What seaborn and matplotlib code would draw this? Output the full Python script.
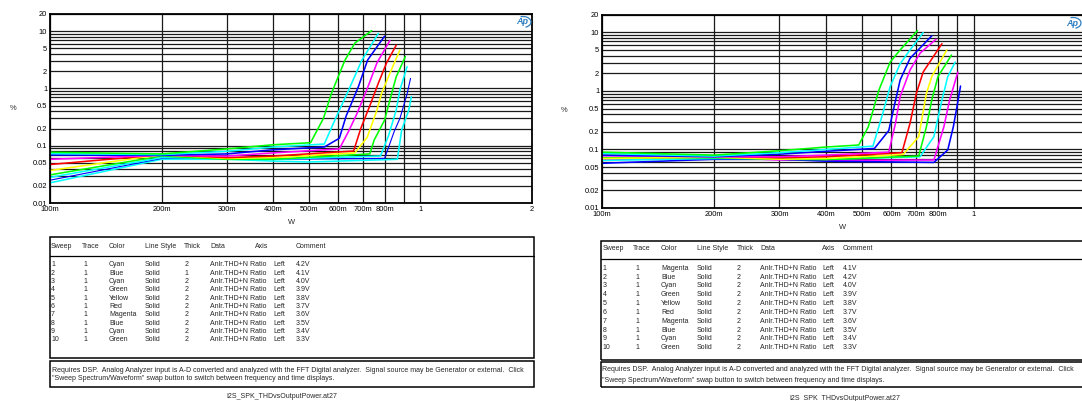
"""THD+N vs output power (I2S speaker amp), two supply sweeps side by side."""
import matplotlib

matplotlib.use("Agg")
import matplotlib.pyplot as plt
from matplotlib.patches import Rectangle, Arc
from matplotlib.ticker import FixedLocator, FixedFormatter, NullLocator
import seaborn as sns

sns.set_theme(style="white")
plt.rcParams["font.family"] = ["Liberation Sans", "DejaVu Sans"]

W_PX, H_PX = 1082, 401

COLOR_HEX = {"Cyan": "#00ffff", "Blue": "#0000ff", "Green": "#00ff00",
             "Yellow": "#ffff00", "Red": "#ff0000", "Magenta": "#ff00ff"}

# ---- left panel, listed in sweep order -----------------------------------
LEFT_VOLTS = ["4.2V", "4.1V", "4.0V", "3.9V", "3.8V", "3.7V", "3.6V", "3.5V", "3.4V", "3.3V"]
LEFT_COLORS = ["Cyan", "Blue", "Cyan", "Green", "Yellow", "Red", "Magenta", "Blue", "Cyan", "Green"]
LEFT_THICK = [2, 1, 2, 2, 2, 2, 2, 2, 2, 2]
LEFT_WATTS = [
    [0.1, 0.2, 0.3, 0.4, 0.5, 0.866, 0.89, 0.93, 0.945],
    [0.1, 0.2, 0.3, 0.4, 0.8, 0.85, 0.88, 0.92, 0.94],
    [0.1, 0.2, 0.3, 0.4, 0.78, 0.82, 0.86, 0.88, 0.92],
    [0.1, 0.2, 0.3, 0.4, 0.73, 0.75, 0.8, 0.827, 0.86, 0.91],
    [0.1, 0.2, 0.3, 0.4, 0.665, 0.718, 0.763, 0.785, 0.827, 0.88],
    [0.1, 0.2, 0.3, 0.4, 0.66, 0.69, 0.73, 0.77, 0.81, 0.86],
    [0.1, 0.2, 0.3, 0.4, 0.604, 0.64, 0.672, 0.716, 0.763, 0.827],
    [0.1, 0.2, 0.3, 0.4, 0.55, 0.604, 0.63, 0.68, 0.72, 0.8],
    [0.1, 0.2, 0.3, 0.4, 0.55, 0.59, 0.64, 0.695, 0.77],
    [0.1, 0.2, 0.3, 0.4, 0.505, 0.547, 0.575, 0.625, 0.665, 0.738],
]
LEFT_THD = [
    [0.0225, 0.058, 0.058, 0.054, 0.052, 0.058, 0.19, 0.42, 0.72],
    [0.025, 0.06, 0.062, 0.058, 0.06, 0.18, 0.3, 0.8, 1.5],
    [0.028, 0.062, 0.06, 0.058, 0.066, 0.15, 0.42, 0.94, 2.4],
    [0.031, 0.066, 0.058, 0.058, 0.072, 0.126, 0.28, 0.63, 1.6, 3.6],
    [0.037, 0.07, 0.06, 0.062, 0.075, 0.14, 0.42, 0.82, 1.85, 4.7],
    [0.047, 0.07, 0.062, 0.066, 0.081, 0.2, 0.5, 1.25, 2.8, 5.7],
    [0.058, 0.068, 0.066, 0.075, 0.088, 0.18, 0.35, 0.94, 2.8, 6.9],
    [0.069, 0.068, 0.072, 0.085, 0.095, 0.135, 0.33, 1.08, 3.14, 8.2],
    [0.073, 0.07, 0.08, 0.095, 0.107, 0.3, 0.94, 3.14, 9.2],
    [0.077, 0.072, 0.088, 0.104, 0.113, 0.3, 0.82, 3.1, 6.2, 10.2],
]

# ---- right panel, listed in sweep order ----------------------------------
RIGHT_VOLTS = ["4.1V", "4.2V", "4.0V", "3.9V", "3.8V", "3.7V", "3.6V", "3.5V", "3.4V", "3.3V"]
RIGHT_COLORS = ["Magenta", "Blue", "Cyan", "Green", "Yellow", "Red", "Magenta", "Blue", "Cyan", "Green"]
RIGHT_THICK = [2, 2, 2, 2, 2, 2, 2, 2, 2, 2]
RIGHT_WATTS = [
    [0.1, 0.2, 0.3, 0.4, 0.78, 0.83, 0.86, 0.905],
    [0.1, 0.2, 0.3, 0.4, 0.78, 0.85, 0.88, 0.9, 0.92],
    [0.1, 0.2, 0.3, 0.4, 0.716, 0.78, 0.82, 0.85, 0.89],
    [0.1, 0.2, 0.3, 0.4, 0.71, 0.745, 0.77, 0.8, 0.87],
    [0.1, 0.2, 0.3, 0.4, 0.645, 0.71, 0.745, 0.77, 0.845],
    [0.1, 0.2, 0.3, 0.4, 0.64, 0.673, 0.7, 0.73, 0.82],
    [0.1, 0.2, 0.3, 0.4, 0.59, 0.615, 0.633, 0.673, 0.716, 0.79],
    [0.1, 0.2, 0.3, 0.4, 0.54, 0.59, 0.61, 0.633, 0.673, 0.77],
    [0.1, 0.2, 0.3, 0.4, 0.535, 0.565, 0.595, 0.633, 0.673, 0.73],
    [0.1, 0.2, 0.3, 0.4, 0.49, 0.52, 0.555, 0.595, 0.633, 0.705],
]
RIGHT_THD = [
    [0.068, 0.074, 0.066, 0.065, 0.066, 0.245, 0.7, 2.1],
    [0.058, 0.068, 0.068, 0.063, 0.06, 0.098, 0.245, 0.54, 1.21],
    [0.065, 0.07, 0.07, 0.068, 0.075, 0.165, 0.7, 1.75, 3.1],
    [0.072, 0.072, 0.068, 0.067, 0.077, 0.245, 0.7, 1.75, 4.1],
    [0.07, 0.074, 0.068, 0.07, 0.082, 0.165, 0.91, 1.75, 5.0],
    [0.083, 0.077, 0.072, 0.075, 0.088, 0.28, 0.91, 2.1, 6.4],
    [0.078, 0.075, 0.075, 0.08, 0.09, 0.28, 0.8, 2.27, 4.4, 7.6],
    [0.08, 0.075, 0.083, 0.093, 0.104, 0.21, 0.54, 1.53, 3.6, 8.7],
    [0.085, 0.077, 0.088, 0.1, 0.114, 0.36, 1.18, 2.9, 5.0, 9.9],
    [0.09, 0.08, 0.095, 0.11, 0.119, 0.245, 1.03, 3.1, 5.0, 10.7],
]

X_TICKS = [0.1, 0.2, 0.3, 0.4, 0.5, 0.6, 0.7, 0.8, 0.9, 1, 2]
X_LABELS = ["100m", "200m", "300m", "400m", "500m", "600m", "700m", "800m", "", "1", "2"]
Y_TICKS = [0.01, 0.02, 0.03, 0.04, 0.05, 0.06, 0.07, 0.08, 0.09,
           0.1, 0.2, 0.3, 0.4, 0.5, 0.6, 0.7, 0.8, 0.9,
           1, 2, 3, 4, 5, 6, 7, 8, 9, 10, 20]
Y_LABELS = ["0.01", "0.02", "", "", "0.05", "", "", "", "",
            "0.1", "0.2", "", "", "0.5", "", "", "", "",
            "1", "2", "", "", "5", "", "", "", "", "10", "20"]

HEADERS = ["Sweep", "Trace", "Color", "Line Style", "Thick", "Data", "Axis", "Comment"]
NOTE = ["Requires DSP.  Analog Analyzer input is A-D converted and analyzed with the FFT "
        "Digital analyzer.  Signal source may be Generator or external.  Click",
        "\"Sweep Spectrum/Waveform\" swap button to switch between frequency and time displays."]
FILENAME = "I2S_SPK_THDvsOutputPower.at27"

FS = 5.05     # table / note text
FS_TICK = 5.4


def fx(x):
    return x / W_PX


def fy(y):
    return 1 - y / H_PX


def draw_panel(fig, geo, volts, colors, thick, watts, thd):
    left, top, right, bottom = geo["axes"]
    ax = fig.add_axes([fx(left), fy(bottom), fx(right - left), (bottom - top) / H_PX])
    for v, c, t, xs, ys in zip(volts, colors, thick, watts, thd):
        sns.lineplot(x=xs, y=ys, ax=ax, sort=False, estimator=None,
                     color=COLOR_HEX[c], lw=1.15 if t == 2 else 0.8)
    ax.set_xscale("log")
    ax.set_yscale("log")
    ax.set_xlim(0.1, 2)
    ax.set_ylim(0.01, 20)
    ax.xaxis.set_major_locator(FixedLocator(X_TICKS))
    ax.xaxis.set_major_formatter(FixedFormatter(X_LABELS))
    ax.xaxis.set_minor_locator(NullLocator())
    ax.yaxis.set_major_locator(FixedLocator(Y_TICKS))
    ax.yaxis.set_major_formatter(FixedFormatter(Y_LABELS))
    ax.yaxis.set_minor_locator(NullLocator())
    ax.tick_params(length=0, labelsize=FS_TICK, pad=2, colors="black")
    ax.grid(True, color="#1a1a1a", lw=0.9)
    ax.set_axisbelow(True)
    for s in ax.spines.values():
        s.set_color("black")
        s.set_linewidth(1.3)
    ax.set_xlabel("")
    ax.set_ylabel("")

    # axis captions
    fig.text(fx(geo["pct"][0]), fy(geo["pct"][1]), "%", fontsize=FS_TICK,
             ha="center", va="center")
    fig.text(fx(geo["w"][0]), fy(geo["w"][1]), "W", fontsize=FS_TICK,
             ha="center", va="center")

    # Ap logo
    lx, ly = geo["logo"]
    fig.text(fx(lx), fy(ly), "Ap", fontsize=6.5, style="italic", color="#2f7fc1",
             ha="center", va="center", fontweight="bold")
    fig.add_artist(Arc((fx(lx + 1), fy(ly)), 16 / W_PX, 11 / H_PX, theta1=-80,
                       theta2=100, color="#2f7fc1", lw=0.9,
                       transform=fig.transFigure))

    # legend table box
    bx0, bx1 = geo["box_x"]
    t_top, t_sep, t_bot = geo["table_y"]
    fig.add_artist(Rectangle((fx(bx0), fy(t_bot)), fx(bx1 - bx0), (t_bot - t_top) / H_PX,
                             fill=False, ec="black", lw=1.1, transform=fig.transFigure))
    fig.add_artist(plt.Line2D([fx(bx0), fx(bx1)], [fy(t_sep)] * 2, color="black",
                              lw=0.9, transform=fig.transFigure))
    for h, cx in zip(HEADERS, geo["cols"]):
        fig.text(fx(cx), fy(geo["head_y"]), h, fontsize=FS, va="center")
    for i, (v, c, t) in enumerate(zip(volts, colors, thick)):
        yy = geo["row0"] + i * geo["row_step"]
        cells = [str(i + 1), "1", c, "Solid", str(t), "Anlr.THD+N Ratio", "Left", v]
        for txt, cx in zip(cells, geo["row_x"]):
            fig.text(fx(cx), fy(yy), txt, fontsize=FS, va="center")

    # note box
    n_top, n_bot = geo["note_y"]
    fig.add_artist(Rectangle((fx(bx0), fy(n_bot)), fx(bx1 - bx0), (n_bot - n_top) / H_PX,
                             fill=False, ec="black", lw=1.1, transform=fig.transFigure))
    for line, yy in zip(NOTE, geo["note_lines"]):
        fig.text(fx(bx0 + 1.5), fy(yy), line, fontsize=FS, va="center")
    fig.text(fx(geo["file"][0]), fy(geo["file"][1]), FILENAME, fontsize=FS,
             ha="center", va="center")
    return ax


LEFT_GEO = {
    "axes": (50, 14, 532, 203),
    "pct": (13, 108), "w": (292, 223), "logo": (522, 22),
    "box_x": (50, 534), "table_y": (237.3, 255.7, 358.3),
    "head_y": 246.7, "row0": 265, "row_step": 8.33,
    "cols": [51, 81.7, 109, 145, 184.3, 210, 255.3, 296],
    "row_x": [51, 83.5, 109, 145, 184.3, 210, 273, 296],
    "note_y": (360.5, 387.3), "note_lines": (370.2, 378.5),
    "file": (282, 396.7),
}
RIGHT_GEO = {
    "axes": (602, 14.7, 1086, 208),
    "pct": (564, 111), "w": (843, 227), "logo": (1072, 23),
    "box_x": (601, 1092), "table_y": (241, 259.3, 360),
    "head_y": 248.3, "row0": 268.3, "row_step": 8.82,
    "cols": [602.7, 633.3, 661, 696.7, 736.7, 760, 822, 843],
    "row_x": [602.7, 635.5, 661, 696.7, 736.7, 760, 822, 843],
    "note_y": (362, 387.3), "note_lines": (369.5, 380),
    "file": (845, 398),
}

fig = plt.figure(figsize=(W_PX / 100, H_PX / 100), dpi=100)
fig.patch.set_facecolor("white")
draw_panel(fig, LEFT_GEO, LEFT_VOLTS, LEFT_COLORS, LEFT_THICK, LEFT_WATTS, LEFT_THD)
draw_panel(fig, RIGHT_GEO, RIGHT_VOLTS, RIGHT_COLORS, RIGHT_THICK, RIGHT_WATTS, RIGHT_THD)
fig.savefig("out.png", dpi=100)
